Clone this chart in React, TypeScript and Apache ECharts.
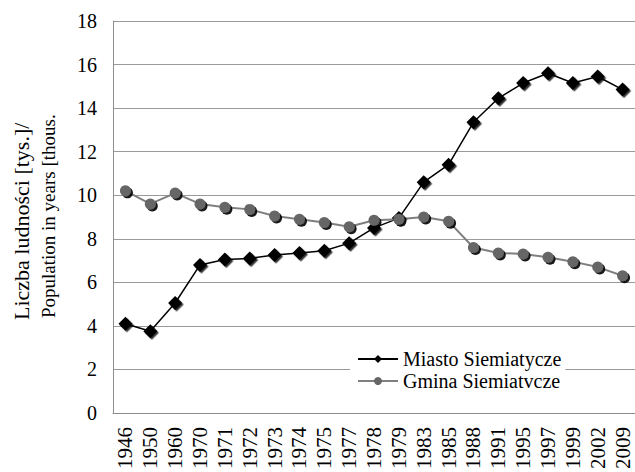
import React, { useEffect, useRef } from "react";
import * as echarts from "echarts";

const years = ["1946", "1950", "1960", "1970", "1971", "1972", "1973", "1974", "1975", "1977", "1978", "1979", "1983", "1985", "1988", "1991", "1995", "1997", "1999", "2002", "2009"];
const miasto = [4.1, 3.75, 5.05, 6.8, 7.05, 7.1, 7.25, 7.35, 7.45, 7.8, 8.5, 8.95, 10.6, 11.4, 13.35, 14.45, 15.15, 15.6, 15.15, 15.45, 14.85];
const gmina = [10.2, 9.6, 10.1, 9.6, 9.45, 9.35, 9.05, 8.9, 8.75, 8.55, 8.85, 8.9, 9.0, 8.8, 7.6, 7.35, 7.3, 7.15, 6.95, 6.7, 6.3];
const seriesNames = ["Miasto Siemiatycze", "Gmina Siemiatvcze"];
const yTitle1 = "Liczba ludności [tys.]/";
const yTitle2 = "Population in years [thous.";

const FONT = "Liberation Serif";
const CSS = `#chart-root svg text, #chart-root svg tspan { font-family: "Liberation Serif", "Times New Roman", serif !important; }`;

export default function App() {
  const ref = useRef<HTMLDivElement>(null);
  useEffect(() => {
    if (!ref.current) return;
    const chart = echarts.init(ref.current, null, { renderer: "svg" });
    chart.setOption({
      animation: false,
      backgroundColor: "#fff",
      textStyle: { fontFamily: FONT, color: "#000" },
      grid: { left: 113, top: 21, width: 527, height: 392, containLabel: false },
      legend: {
        orient: "vertical",
        left: 350,
        top: 347,
        padding: [2, 4, 2, 7],
        itemGap: 2,
        itemWidth: 40,
        itemHeight: 10,
        backgroundColor: "#fff",
        textStyle: { fontFamily: FONT, fontSize: 20, color: "#000" },
        data: seriesNames,
      },
      xAxis: {
        type: "category",
        data: years,
        boundaryGap: true,
        axisLine: { lineStyle: { color: "#8c8c8c", width: 1 } },
        axisTick: { show: false },
        axisLabel: { rotate: 90, margin: 14, interval: 0, fontFamily: FONT, fontSize: 21, color: "#000" },
      },
      yAxis: {
        type: "value",
        min: 0,
        max: 18,
        interval: 2,
        axisLine: { show: true, lineStyle: { color: "#8c8c8c", width: 1 } },
        axisTick: { show: false },
        axisLabel: { margin: 16, fontFamily: FONT, fontSize: 20, color: "#000" },
        splitLine: { lineStyle: { color: "#9a9a9a", width: 1 } },
      },
      graphic: [
        {
          type: "text",
          x: 21,
          y: 320,
          rotation: Math.PI / 2,
          style: { text: yTitle1, fontFamily: FONT, fontSize: 22, fill: "#000", textAlign: "left", textVerticalAlign: "middle" },
        },
        {
          type: "text",
          x: 48,
          y: 318,
          rotation: Math.PI / 2,
          style: { text: yTitle2, fontFamily: FONT, fontSize: 19, fill: "#000", textAlign: "left", textVerticalAlign: "middle" },
        },
      ],
      series: [
        {
          name: seriesNames[0],
          type: "line",
          data: miasto,
          symbol: "diamond",
          symbolSize: 14,
          lineStyle: { color: "#000", width: 1.5 },
          itemStyle: { color: "#000", shadowColor: "rgba(0,0,0,0.8)", shadowOffsetX: 1.5, shadowOffsetY: 1.5, shadowBlur: 1 },
        },
        {
          name: seriesNames[1],
          type: "line",
          data: gmina,
          symbol: "circle",
          symbolSize: 11,
          lineStyle: { color: "#7f7f7f", width: 2 },
          itemStyle: { color: "#666666", shadowColor: "rgba(0,0,0,0.9)", shadowOffsetX: 2, shadowOffsetY: 2, shadowBlur: 1 },
        },
      ],
    });
    return () => chart.dispose();
  }, []);
  return (
    <>
      <style>{CSS}</style>
      <div id="chart-root" ref={ref} style={{ position: "fixed", left: 0, top: 0, width: 635, height: 472 }} />
    </>
  );
}
